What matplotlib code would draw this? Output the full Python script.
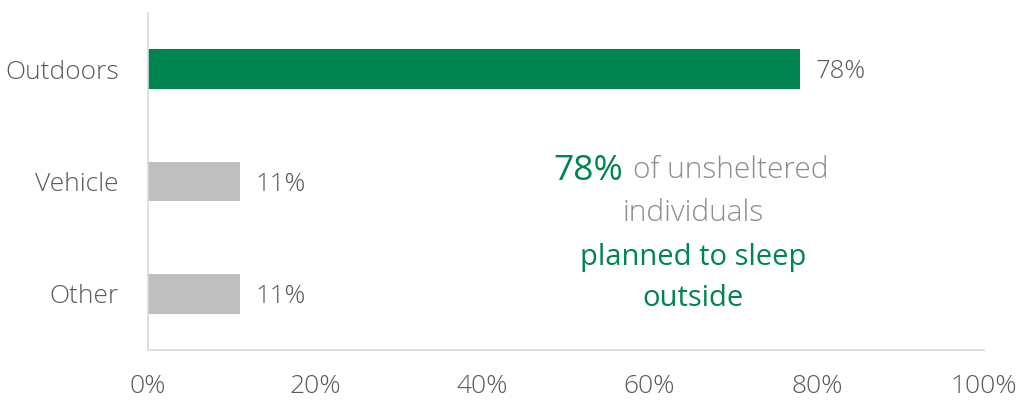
import matplotlib.pyplot as plt
import matplotlib.ticker as mticker

# data
categories = ['Outdoors', 'Vehicle', 'Other']
values = [78, 11, 11]
bar_colors = ['#008450', '#bfbfbf', '#bfbfbf']
x_ticks = [0, 20, 40, 60, 80, 100]

GREEN = '#008450'
DARK = '#595959'
LIGHT = '#8c8c8c'

plt.rcParams['font.family'] = ['Open Sans', 'DejaVu Sans']

fig = plt.figure(figsize=(10.16, 4.05), dpi=100)
ax = fig.add_axes([148 / 1016, 1 - 350 / 405, 836 / 1016, 337 / 405])

ypos = list(range(len(categories)))
ax.barh(ypos, values, height=0.354, color=bar_colors)
ax.set_ylim(2.5, -0.5)
ax.set_xlim(0, 100)

for y, v in zip(ypos, values):
    ax.annotate(f'{v}%', xy=(v, y), xytext=(11, -2), textcoords='offset points',
                va='center', ha='left', fontsize=18.5, color=DARK, fontweight='light')

ax.set_yticks(ypos)
ax.set_yticklabels(categories, fontsize=19, color=DARK, fontweight='light')
ax.set_xticks(x_ticks)
ax.xaxis.set_major_formatter(mticker.FuncFormatter(lambda v, p: f'{v:.0f}%'))
for lbl in ax.get_xticklabels():
    lbl.set_fontsize(19)
    lbl.set_color(DARK)
    lbl.set_fontweight('light')
ax.tick_params(axis='both', length=0)
ax.tick_params(axis='y', pad=21)
ax.tick_params(axis='x', pad=17)

for s in ['top', 'right']:
    ax.spines[s].set_visible(False)
for s in ['left', 'bottom']:
    ax.spines[s].set_color('#d9d9d9')
    ax.spines[s].set_linewidth(1.2)

# callout text
def fx(px):
    return px / 1016

def fy(py):
    return 1 - py / 405

fig.text(fx(623), fy(171), '78%', fontsize=25.5, color=GREEN, ha='right', va='center')
fig.text(fx(633), fy(170), 'of unsheltered', fontsize=21.5, color=LIGHT, ha='left',
         va='center', fontweight='light')
fig.text(fx(693), fy(213), 'individuals', fontsize=21.5, color=LIGHT, ha='center',
         va='center', fontweight='light')
fig.text(fx(693), fy(257), 'planned to sleep', fontsize=21, color=GREEN, ha='center',
         va='center')
fig.text(fx(693), fy(298), 'outside', fontsize=21, color=GREEN, ha='center', va='center')

plt.savefig('out.png', dpi=100)
